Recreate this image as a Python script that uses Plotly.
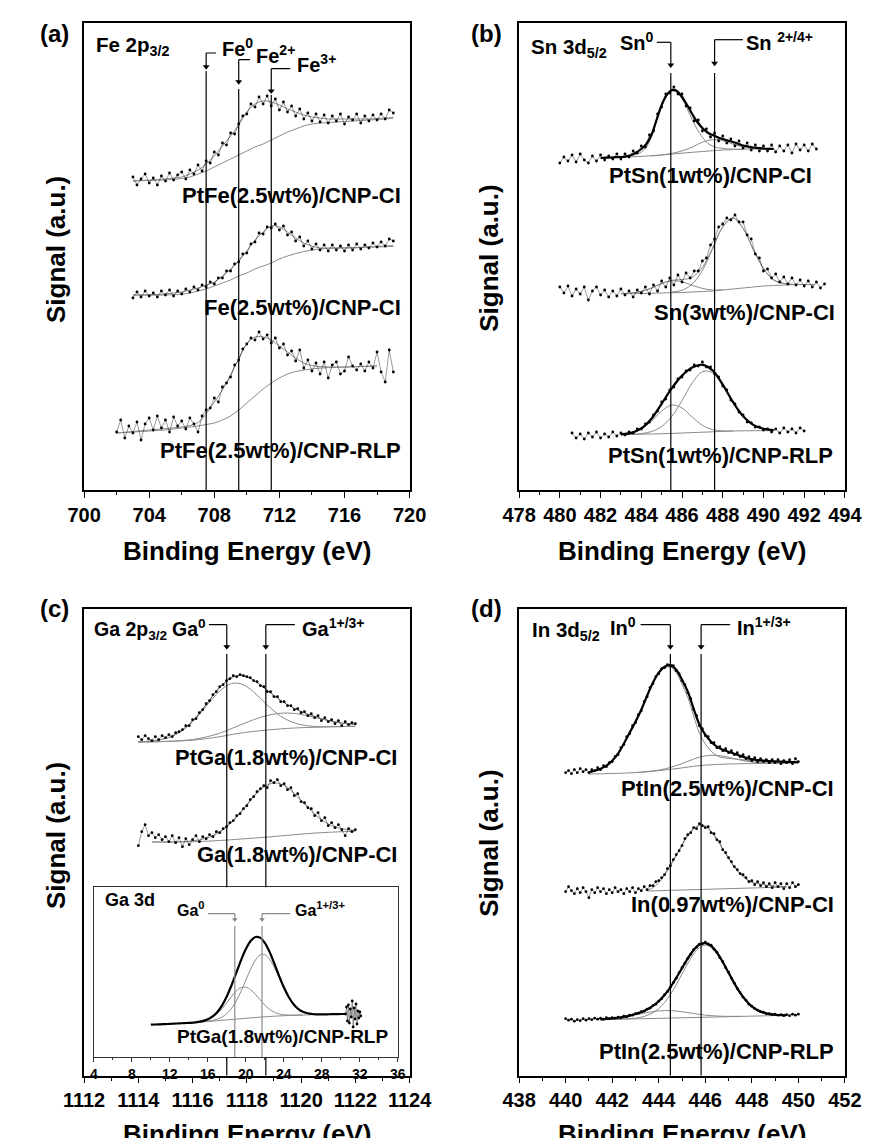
import numpy as np
import plotly.graph_objects as go

# ======================= DATA (signal, a.u.) =======================
# ---- Panel (a) Fe 2p3/2 ----
a_ticks = [700, 704, 708, 712, 716, 720]
fe_peaks = [707.5, 709.5, 711.5]
fe_names = ["Fe<sup>0</sup>", "Fe<sup>2+</sup>", "Fe<sup>3+</sup>"]
a_samples = ["PtFe(2.5wt%)/CNP-CI", "Fe(2.5wt%)/CNP-CI", "PtFe(2.5wt%)/CNP-RLP"]
a1_data = [313, 305, 311, 316, 307, 312, 305, 314, 309, 317, 310, 315, 318, 311, 320, 316,
           325, 319, 329, 327, 338, 335, 347, 345, 357, 356, 366, 374, 376, 386, 383, 393,
           386, 394, 384, 391, 380, 388, 378, 384, 374, 381, 371, 377, 369, 376, 368, 375,
           367, 374, 369, 376, 366, 373, 370, 376, 367, 374, 369, 375, 370, 376, 371, 380, 377]
a1_env = [309, 309.5, 310, 310.5, 311, 312, 313, 316, 320, 326, 334, 344, 354, 365, 378, 386, 389,
          388, 385, 381, 378, 375, 373, 372, 371, 371, 371, 371, 371, 371, 371.5, 372, 372.5]
a1_bg = [309, 309.2, 309.5, 309.8, 310, 310.7, 311.5, 313, 316, 319, 323, 327, 331, 335, 339, 343,
         346, 350, 354, 358, 361, 364, 366, 367, 367.5, 368, 368.5, 369, 369.5, 370, 370.5, 371, 372]
a2_data = [192, 198, 193, 199, 194, 197, 193, 199, 195, 200, 194, 199, 196, 201, 198, 203,
           200, 205, 203, 208, 206, 212, 212, 219, 219, 226, 228, 236, 237, 246, 248, 257,
           256, 263, 262, 266, 260, 264, 255, 258, 249, 253, 244, 249, 241, 246, 240, 245,
           239, 245, 240, 244, 239, 245, 240, 246, 241, 245, 242, 247, 243, 248, 244, 251, 249]
a2_env = [195, 195, 195, 195.5, 196, 197, 198, 200, 202, 205, 208, 214, 221, 229, 239, 250, 258,
          264, 263, 258, 252, 247, 244, 242, 242, 242, 242, 242, 242.5, 243, 243.5, 244, 244.5]
a2_bg = [195, 195, 195, 195, 195, 195.3, 195.7, 197, 199, 201, 204, 207, 210, 214, 217, 221, 224,
         227, 231, 234, 236.5, 238.5, 240, 241, 241.7, 242, 242.2, 242.4, 242.6, 242.8, 243, 243.3, 243.6]
a3_data = [58, 70, 52, 64, 57, 68, 50, 66, 72, 60, 74, 62, 70, 58, 73, 64, 69, 61, 72, 66,
           58, 74, 80, 82, 92, 88, 103, 107, 113, 125, 130, 141, 146, 152, 150, 158,
           151, 155, 147, 152, 142, 146, 135, 139, 129, 140, 122, 130, 119, 127, 116, 128,
           112, 125, 128, 116, 119, 133, 124, 120, 126, 119, 128, 122, 138, 118, 108, 140, 118]
a3_env = [57, 57.7, 58.5, 59.2, 60, 60.7, 61.5, 62.2, 63, 64.5, 67.5, 76, 88, 100, 115, 131, 146,
          153, 153, 150, 144, 138, 132, 127, 124.5, 123.5, 123, 123, 123, 123.2, 123.5, 123.8, 124]
a3_bg = [57, 57.5, 58, 58.5, 59, 59.5, 60, 61, 62, 63, 64, 65.5, 67, 70, 74, 80, 87, 94, 101, 107,
         112, 116, 118.5, 120, 121, 122, 122.3, 122.6, 122.9, 123.2, 123.5, 123.8, 124]

# ---- Panel (b) Sn 3d5/2 ----
b_ticks = [478, 480, 482, 484, 486, 488, 490, 492, 494]
sn_peaks = [485.45, 487.6]
b_samples = ["PtSn(1wt%)/CNP-CI", "Sn(3wt%)/CNP-CI", "PtSn(1wt%)/CNP-RLP"]
b1_data = [327, 333, 329, 335, 328, 336, 330, 327, 334, 329, 335, 330, 334, 331, 336,
           331, 336, 333, 339, 337, 344, 343, 355, 359, 376, 383, 396, 397, 403, 396,
           396, 384, 382, 369, 370, 359, 361, 353, 357, 349, 354, 347, 351, 344, 349,
           342, 347, 340, 345, 339, 344, 339, 345, 338, 344, 339, 345, 337, 346, 340,
           345, 339, 346, 341]
b1_env = [332, 332.3, 332.5, 332.8, 333, 333.7, 335, 337.5, 341, 346, 355, 370, 385, 395, 400, 399,
          393, 385, 376, 368, 362, 357.5, 355, 352.8, 351, 349.5, 348, 346.3, 344.5, 343.5,
          342.5, 342, 341.5, 341.2, 341]
b1_base = [332, 332.4, 332.8, 333.2, 333.6, 334.3, 335, 335.9, 336.8, 337.7, 338.5, 339.3, 340,
           340.4, 340.8, 341, 341, 341]
b1_c1 = [332.9, 333.4, 334.1, 335.6, 338.1, 342.8, 353.9, 369.3, 384.5, 394.3, 398.9, 397.8, 391.3,
         381.3, 370.3, 360.5, 352.7, 347.0, 344.0, 342.3, 341.7, 341.0, 340.8, 340.7, 340.8]
b1_c2 = [333.9, 335.1, 336.6, 339.1, 342.8, 347.8, 350.3, 349.3, 345.9, 343.1, 341.7, 341.1, 341]
b2_data = [203, 197, 204, 194, 201, 196, 203, 190, 199, 203, 195, 200, 193, 199, 194,
           201, 195, 199, 193, 200, 197, 203, 196, 205, 199, 209, 203, 212, 205, 215,
           208, 217, 212, 219, 219, 229, 232, 245, 251, 263, 266, 272, 270, 275, 268,
           268, 255, 251, 236, 232, 219, 221, 212, 216, 208, 213, 206, 212, 205, 210,
           204, 209, 203, 208, 202, 206]
b2_env = [196.4, 197, 198.5, 202, 206.5, 209.7, 210.4, 212.8, 222.6, 242, 263.2, 272, 261.6, 240.5,
          221.7, 210.1, 206.6, 205.6, 205.5, 205.5]
b2_base = [196.3, 196.4, 196.5, 196.8, 197, 197.3, 197.5, 198, 198.5, 199, 200, 201, 202, 203, 204,
           204.5, 205, 205.3, 205.5, 205.5]
b2_main = [198, 199.7, 206, 219.5, 241, 263, 272, 261.6, 240.5, 221.7, 210, 206.6, 205.6]
b2_small = [196.8, 198.5, 201.9, 206.4, 209.2, 208.2, 204.7, 201.6, 200, 200.2]
b3_data = [57, 52, 56, 51, 57, 53, 58, 52, 56, 53, 58, 54, 57, 55, 58, 57, 61,
           61, 66, 68, 75, 79, 88, 91, 100, 103, 111, 113, 119, 120, 125, 124,
           128, 123, 123, 116, 113, 104, 100, 90, 86, 78, 75, 68, 67, 63, 63,
           60, 61, 58, 61, 57, 62, 58, 61, 57, 62, 59]
b3_env = [55.6, 57.1, 61.6, 71.3, 86.2, 101.9, 114.4, 122.5, 125.2, 119.6, 105.4, 88.05, 73.8, 65.1,
          61.2, 59.9]
b3_base = [55.3, 55.5, 55.8, 56, 56.3, 56.6, 57, 57.4, 57.8, 58.2, 58.6, 59, 59.2, 59.3, 59.3, 59.4]
b3_c1 = [55.6, 57.0, 61.0, 68.9, 79.0, 84.9, 82.0, 73.0, 64.7, 60.4, 59.1, 59]
b3_c2 = [55.6, 56.4, 58.4, 63.5, 73.6, 89.4, 106.9, 118.3, 117.4, 104.9, 88.0, 73.8, 65.1, 61.2, 59.9]

# ---- Panel (c) Ga 2p3/2 (+ Ga 3d inset) ----
c_ticks = [1112, 1114, 1116, 1118, 1120, 1122, 1124]
ga_peaks = [1117.26, 1118.7]
c_samples = ["PtGa(1.8wt%)/CNP-CI", "Ga(1.8wt%)/CNP-CI"]
c1_data = [39, 36, 40, 37, 35, 39, 36, 40, 38, 41, 39, 43, 44, 46, 50, 50,
           56, 57, 63, 66, 72, 75, 81, 84, 89, 91, 95, 97, 100, 99, 101, 100,
           99, 98, 95, 94, 90, 89, 84, 84, 79, 79, 74, 74, 70, 70, 66, 67,
           63, 64, 60, 62, 58, 60, 55, 58, 54, 56, 52, 55, 50, 54, 51, 53, 52]
c1_env = [33.9, 34.2, 34.8, 35.7, 37.3, 39.6, 43.25, 48.2, 54.6, 62.4, 71.1, 80.0, 88.0, 94.6, 98.8,
          100.2, 98.9, 95.5, 90.7, 85.4, 80.1, 75.2, 71.0, 67.4, 64.3, 61.55, 59.2, 57.1, 55.3, 53.9,
          52.6, 51.75, 51.1]
c1_base = [33.7, 33.8, 33.9, 34.0, 34.2, 34.4, 34.7, 35.1, 35.5, 36.2, 37, 38, 39, 40.2, 41.5, 42.5,
           43.5, 44.3, 45, 45.7, 46.3, 46.8, 47.3, 47.7, 48, 48.2, 48.4, 48.6, 48.8, 49, 49.1, 49.25, 49.4]
c1_c1 = [33.9, 34.2, 34.8, 35.65, 37.2, 39.5, 43.0, 47.8, 53.9, 61.3, 69.4, 77.5, 84.5, 89.8, 92.5,
         92.1, 89.0, 83.8, 77.4, 70.8, 64.7, 59.5, 55.6, 52.8, 51.0, 49.85, 49.3, 49.0, 49.0, 49.0,
         49.1, 49.25, 49.4]
c1_c2 = [33.7, 33.8, 33.9, 34.0, 34.3, 34.5, 34.95, 35.5, 36.2, 37.3, 38.7, 40.5, 42.5, 45.0, 47.8,
         50.6, 53.4, 56.0, 58.3, 60.3, 61.7, 62.5, 62.7, 62.3, 61.3, 59.9, 58.3, 56.7, 55.3, 53.8,
         52.6, 51.75, 51.1]
c2_data = [30, 44, 51, 40, 43, 38, 41, 36, 39, 34, 40, 33, 38, 29, 37, 31,
           36, 40, 34, 39, 37, 41, 39, 44, 43, 47, 49, 53, 55, 60, 62, 67,
           70, 76, 79, 84, 87, 90, 88, 95, 93, 96, 90, 92, 86, 88, 80, 82,
           74, 73, 68, 67, 60, 63, 55, 58, 50, 53, 48, 51, 46, 40, 47, 44, 46]
c2_env = [33.7, 33.7, 33.73, 33.8, 34.0, 34.3, 34.8, 35.8, 37.5, 39.95, 43.6, 48.6, 55.0, 62.6, 70.8,
          78.8, 85.8, 90.6, 92.7, 91.8, 88.1, 82.2, 75.3, 68.1, 61.5, 56.0, 51.8, 48.85, 47.0, 45.8, 45.2]
c2_base = [33.7, 33.7, 33.7, 33.7, 33.8, 33.9, 34.0, 34.2, 34.5, 34.8, 35.2, 35.6, 36.1, 36.6, 37.1,
           37.6, 38.1, 38.6, 39.2, 39.8, 40.4, 41.0, 41.6, 42.1, 42.6, 43.0, 43.4, 43.7, 44.0, 44.2, 44.4]
i_ticks = [4, 8, 12, 16, 20, 24, 28, 32, 36]
ga3d_peaks = [18.84, 21.7]
inset_sample = "PtGa(1.8wt%)/CNP-RLP"
i_total = [32.3, 32.5, 32.7, 32.9, 33.1, 33.35, 33.6, 33.85, 34.1, 34.4, 35.1, 36.1, 37.8, 40.6,
           45.1, 51.7, 60.7, 71.9, 84.4, 96.9, 107.9, 116.0, 120.0, 119.35, 114.1, 105.0, 93.5,
           81.15, 69.7, 60.2, 53.0, 48.2, 45.3, 43.75, 43.0, 42.7, 42.6, 42.7, 42.8, 42.9, 43.0, 43.0]
i_base = [34.7, 35.1, 35.5, 35.9, 36.3, 36.7, 37.1, 37.5, 37.9, 38.3, 38.7, 39.1, 39.5, 39.85, 40.2,
          40.5, 40.8, 41.05, 41.3, 41.5, 41.7, 41.85, 42.0, 42.15, 42.3, 42.4, 42.5]
i_c1 = [35.1, 36.0, 37.5, 39.9, 43.5, 48.4, 54.4, 60.7, 66.1, 69.4, 69.8, 67.3, 62.7, 57.15, 51.9,
        47.7, 44.8, 43.05, 42.2, 41.9, 41.8, 41.9, 42.0]
i_c2 = [34.7, 35.2, 35.8, 36.6, 37.9, 40.0, 43.4, 48.7, 56.2, 65.8, 76.8, 87.8, 96.8, 102.05, 102.4,
        97.8, 89.5, 79.15, 68.8, 59.8, 52.9, 48.15, 45.3, 43.75, 43.0, 42.7, 42.6]
i_noise = [43, 50, 36, 52, 34, 48, 40, 56, 30, 49, 38, 53, 33, 46, 39, 45, 41]

# ---- Panel (d) In 3d5/2 ----
d_ticks = [438, 440, 442, 444, 446, 448, 450, 452]
in_peaks = [444.5, 445.82]
d_samples = ["PtIn(2.5wt%)/CNP-CI", "In(0.97wt%)/CNP-CI", "PtIn(2.5wt%)/CNP-RLP"]
d1_data = [3, 5, 2, 6, 3, 7, 4, 6, 3, 6, 5, 8, 6, 10, 9, 13,
           14, 19, 21, 28, 31, 39, 42, 50, 53, 61, 65, 74, 79, 88, 92, 99,
           102, 107, 108, 111, 110, 110, 105, 102, 95, 91, 83, 77, 66, 60, 50, 47,
           40, 39, 33, 33, 28, 29, 25, 27, 23, 25, 21, 23, 19, 21, 17, 19,
           15, 18, 14, 17, 14, 16, 13, 16, 13, 16, 12, 15, 13, 16, 12, 17, 14]
d1_env = [3.5, 5, 7, 10, 15, 22, 32, 43, 54, 66, 80, 93, 103, 109, 110.5, 106, 96, 84, 67, 51,
          41, 34, 29, 26, 24, 22, 20, 18, 16.5, 15.7, 15, 14.6, 14.3, 14, 13.8, 13.6, 13.5]
d1_base = [1.7, 1.9, 2.2, 2.6, 3.1, 3.9, 5.0, 6.3, 7.8, 9.4, 10.6, 11.3, 11.7, 11.95, 12.1, 12.3,
           12.45, 12.6, 12.7]
d1_c1 = [3.5, 5, 7, 10, 15, 22, 32, 43, 54, 65.95, 79.8, 92.6, 102.3, 107.8, 108.6, 103, 91.7, 78.3,
         59.8, 42.6, 31.7, 24.5, 20, 18, 17.35, 16.8, 16.3, 15.5, 14.9, 14.7, 14.5, 14.3, 14.2, 14,
         13.8, 13.6, 13.5]
d1_c2 = [3.1, 4.1, 5.65, 8.2, 12.1, 16.6, 19.9, 20.3, 18.35, 15.65, 13.7, 12.8, 12.55, 12.6]
d2_data = [4, 9, 5, 2, 7, 3, 8, 4, -2, 6, 3, 8, 4, 7, 2, 6,
           3, 8, 4, 6, 2, 7, 4, 8, 3, 7, 5, 9, 6, 10, 10, 14,
           15, 18, 21, 27, 30, 36, 41, 45, 50, 57, 61, 63, 68, 67, 72, 70,
           68, 69, 63, 62, 56, 54, 46, 43, 38, 34, 29, 26, 22, 21, 18, 14,
           15, 11, 14, 10, 13, 9, 12, 8, 13, 9, 12, 7, 12, 8, 13, 9, 11]
d2_env = [5.5, 8, 13, 20.5, 30, 40, 50.5, 60, 67, 70.5, 69.5, 64, 56, 46.5, 37, 28.5, 21.8, 16.8,
          13.5, 12, 11, 10.2, 9.6, 9.2, 9.0]
d2_base_e = [443.5, 449.5]
d2_base = [4.7, 8.7]
d3_data = [7, 5.5, 6.5, 4.5, 6, 5, 7, 5.5, 7, 6, 7.5, 6.5, 7.5, 6.5, 8, 7,
           8, 7.5, 8.5, 8, 9.5, 9, 10.5, 10.5, 12, 12.5, 14, 14.5, 16.5, 17.5, 20, 21.5,
           24.5, 27, 31, 34, 38.5, 43, 47.5, 53, 58, 62.5, 67.5, 71.5, 76, 78.5, 81.5, 82,
           83.5, 81.5, 80.5, 76.5, 73.5, 68, 64, 58, 53.5, 47.5, 42.5, 37, 33, 28.5, 25.5, 21.5,
           19.5, 17, 15.5, 14, 13.5, 12, 12, 11, 11.5, 10.5, 11, 10, 11, 10, 11.5, 10.5, 11.5]
d3_env = [6.34, 6.71, 7.24, 7.92, 8.81, 10.06, 11.63, 13.56, 16.3, 19.84, 24.48, 30.71, 38.45, 47.69,
          57.63, 67.36, 75.7, 81.14, 82.58, 79.86, 73.19, 63.76, 53.07, 42.35, 32.8, 25.09, 19.31,
          15.42, 13.05, 11.59, 10.93, 10.63, 10.56]
d3_main = [6.0, 6.14, 6.3, 6.47, 6.71, 7.06, 7.63, 8.56, 10.3, 12.94, 17.08, 23.11, 31.05, 40.79,
           51.63, 62.36, 71.7, 78.14, 80.48, 78.41, 72.25, 63.19, 52.73, 42.16, 32.7, 25.04, 19.28,
           15.41, 13.05, 11.59, 10.93, 10.63, 10.56]
d3_small = [6.34, 6.71, 7.22, 7.86, 8.65, 9.69, 10.83, 11.96, 13.1, 14.14, 14.78, 15.11, 15.05,
            14.69, 13.93, 13.06, 12.2, 11.34, 10.58, 10.06, 9.69, 9.46, 9.37, 9.35, 9.4]
d3_base_e = [441.5, 449.5]
d3_base = [6, 10.4]

# ======================= FIGURE =======================
W, H = 877, 1138
FONT = "Liberation Sans, Arial, Helvetica, sans-serif"
GREY = "#8a8a8a"


def grid(start, step, vals):
    return start + step * np.arange(len(vals))


def px(x):
    return x / W


def py(y):
    return 1 - y / H


fig = go.Figure()


def add_line(x, y, ax, kind, off=0.0):
    y = np.asarray(y, dtype=float) + off
    if kind == "data":
        fig.add_trace(go.Scatter(x=x, y=y, mode="lines+markers", xaxis=ax[0], yaxis=ax[1],
                                 line=dict(color="black", width=0.4),
                                 marker=dict(color="black", size=2.8),
                                 hoverinfo="skip", showlegend=False))
    elif kind == "bold":
        fig.add_trace(go.Scatter(x=x, y=y, mode="lines", xaxis=ax[0], yaxis=ax[1],
                                 line=dict(color="black", width=2.2, shape="spline"),
                                 hoverinfo="skip", showlegend=False))
    else:
        fig.add_trace(go.Scatter(x=x, y=y, mode="lines", xaxis=ax[0], yaxis=ax[1],
                                 line=dict(color=GREY, width=1.0, shape="spline"),
                                 hoverinfo="skip", showlegend=False))


A, B, C, D, I = ("x", "y"), ("x2", "y2"), ("x3", "y3"), ("x4", "y4"), ("x5", "y5")

# Panel a
add_line(grid(703, 0.5, a1_bg), a1_bg, A, "grey")
add_line(grid(703, 0.5, a1_env), a1_env, A, "grey")
add_line(grid(703, 0.25, a1_data), a1_data, A, "data")
add_line(grid(703, 0.5, a2_bg), a2_bg, A, "grey")
add_line(grid(703, 0.5, a2_env), a2_env, A, "grey")
add_line(grid(703, 0.25, a2_data), a2_data, A, "data")
add_line(grid(702, 0.5, a3_bg), a3_bg, A, "grey")
add_line(grid(702, 0.5, a3_env), a3_env, A, "grey")
add_line(grid(702, 0.25, a3_data), a3_data, A, "data")

# Panel b
add_line(grid(482, 0.5, b1_base), b1_base, B, "grey")
add_line(grid(483, 0.25, b1_c1), b1_c1, B, "grey")
add_line(grid(484.5, 0.5, b1_c2), b1_c2, B, "grey")
add_line(grid(480, 0.2, b1_data), b1_data, B, "data")
add_line(grid(482, 0.25, b1_env), b1_env, B, "bold")
add_line(grid(483, 0.5, b2_base), b2_base, B, "grey")
add_line(grid(485.5, 0.5, b2_main), b2_main, B, "grey")
add_line(grid(483.5, 0.5, b2_small), b2_small, B, "grey")
add_line(grid(483, 0.5, b2_env), b2_env, B, "grey")
add_line(grid(480, 0.2, b2_data), b2_data, B, "data")
add_line(grid(483, 0.5, b3_base), b3_base, B, "grey")
add_line(grid(483, 0.5, b3_c1), b3_c1, B, "grey")
add_line(grid(483.5, 0.5, b3_c2), b3_c2, B, "grey")
add_line(grid(480.6, 0.2, b3_data), b3_data, B, "data")
add_line(grid(483, 0.5, b3_env), b3_env, B, "bold")

# Panel c (stacked with vertical offsets)
OFF_C = [300, 200]
add_line(grid(1114, 0.25, c1_base), c1_base, C, "grey", OFF_C[0])
add_line(grid(1114, 0.25, c1_c1), c1_c1, C, "grey", OFF_C[0])
add_line(grid(1114, 0.25, c1_c2), c1_c2, C, "grey", OFF_C[0])
add_line(grid(1114, 0.25, c1_env), c1_env, C, "grey", OFF_C[0])
add_line(grid(1114, 0.125, c1_data), c1_data, C, "data", OFF_C[0])
add_line(grid(1114.5, 0.25, c2_base), c2_base, C, "grey", OFF_C[1])
add_line(grid(1114.5, 0.25, c2_env), c2_env, C, "grey", OFF_C[1])
add_line(grid(1114, 0.125, c2_data), c2_data, C, "data", OFF_C[1])

# Inset
add_line(grid(15, 0.5, i_base), i_base, I, "grey")
add_line(grid(15, 0.5, i_c1), i_c1, I, "grey")
add_line(grid(15, 0.5, i_c2), i_c2, I, "grey")
add_line(grid(30.5, 0.1, i_noise), i_noise, I, "data")
add_line(grid(10, 0.5, i_total), i_total, I, "bold")

# Panel d (stacked with vertical offsets)
OFF_D = [300, 180, 50]
add_line(grid(441, 0.5, d1_base), d1_base, D, "grey", OFF_D[0])
add_line(grid(441, 0.25, d1_c1), d1_c1, D, "grey", OFF_D[0])
add_line(grid(443, 0.5, d1_c2), d1_c2, D, "grey", OFF_D[0])
add_line(grid(440, 0.125, d1_data), d1_data, D, "data", OFF_D[0])
add_line(grid(441, 0.25, d1_env), d1_env, D, "bold", OFF_D[0])
add_line(d2_base_e, d2_base, D, "grey", OFF_D[1])
add_line(grid(443.5, 0.25, d2_env), d2_env, D, "grey", OFF_D[1])
add_line(grid(440, 0.125, d2_data), d2_data, D, "data", OFF_D[1])
add_line(d3_base_e, d3_base, D, "grey", OFF_D[2])
add_line(grid(441.5, 0.25, d3_main), d3_main, D, "grey", OFF_D[2])
add_line(grid(441.5, 0.25, d3_small), d3_small, D, "grey", OFF_D[2])
add_line(grid(440, 0.125, d3_data), d3_data, D, "data", OFF_D[2])
add_line(grid(441.5, 0.25, d3_env), d3_env, D, "bold", OFF_D[2])

# ---------------- axes ----------------
XA = [px(58), px(400.7)]
XB = [px(516), px(859)]
YT = [py(482), py(15)]
YB = [py(1067.7), py(600.7)]
XI = [px(68.3), px(388.3)]
YI = [py(1049), py(879.3)]


def xax(rng, ticks, mdt, dom, anchor, size=20, tl=6, lw=1.5, col="black"):
    return dict(range=rng, domain=dom, anchor=anchor, tickmode="array", tickvals=ticks,
                ticktext=["<b>%g</b>" % t for t in ticks],
                ticks="outside", ticklen=tl, tickwidth=1.3, tickcolor=col,
                minor=dict(tickmode="linear", tick0=rng[0], dtick=mdt, ticks="outside",
                           ticklen=tl * 0.55, tickwidth=1.2, tickcolor=col),
                showline=True, linecolor=col, linewidth=lw, mirror=True,
                showgrid=False, zeroline=False,
                tickfont=dict(family=FONT, size=size, color="black"))


def yax(rng, dom, anchor, lw=1.5, col="black"):
    return dict(range=rng, domain=dom, anchor=anchor, showline=True, linecolor=col, linewidth=lw,
                mirror=True, ticks="", showticklabels=False, showgrid=False, zeroline=False)


fig.update_layout(
    width=W, height=H, autosize=False, margin=dict(l=0, r=0, t=0, b=0),
    paper_bgcolor="white", plot_bgcolor="white", showlegend=False,
    xaxis=xax([700, 720], a_ticks, 2, XA, "y"), yaxis=yax([0, 467], YT, "x"),
    xaxis2=xax([478, 494], b_ticks, 1, XB, "y2"), yaxis2=yax([0, 467], YT, "x2"),
    xaxis3=xax([1112, 1124], c_ticks, 1, XA, "y3"), yaxis3=yax([0, 467], YB, "x3"),
    xaxis4=xax([438, 452], d_ticks, 1, XB, "y4"), yaxis4=yax([0, 467], YB, "x4"),
    xaxis5=xax([4, 36], i_ticks, 2, XI, "y5", size=14, tl=4, lw=1.2, col="#333333"),
    yaxis5=yax([0, 169.7], YI, "x5", lw=1.2, col="#333333"),
)

shapes = []
annots = []


def vline(xr, yr, x, y0, y1, color="black", w=1.2):
    shapes.append(dict(type="line", xref=xr, yref=yr, x0=x, x1=x, y0=y0, y1=y1,
                       line=dict(color=color, width=w), layer="above"))


def hline(xr, yr, x0, x1, y, color="black", w=1.2):
    shapes.append(dict(type="line", xref=xr, yref=yr, x0=x0, x1=x1, y0=y, y1=y,
                       line=dict(color=color, width=w), layer="above"))


def text(xr, yr, x, y, s, size=22, xanchor="left", yanchor="middle", angle=0):
    annots.append(dict(x=x, y=y, xref=xr, yref=yr, text="<b>" + s + "</b>", showarrow=False,
                       xanchor=xanchor, yanchor=yanchor, textangle=angle,
                       font=dict(family=FONT, size=size, color="black")))


def marker_label(ax, x, ytail, ytip, yline_top, xend, label, lx, ly, side,
                 color="black", size=20, segments=None, head=6):
    xr, yr = ax
    hline(xr, yr, min(x, xend), max(x, xend), ytail, color)
    vline(xr, yr, x, ytip + head * 0.6, ytail, color)
    # arrow head (filled triangle marker whose tip sits at ytip)
    fig.add_trace(go.Scatter(x=[x], y=[ytip + head / 2.0], mode="markers", xaxis=xr, yaxis=yr,
                             marker=dict(symbol="triangle-down", size=head, color=color,
                                         line=dict(width=0)),
                             hoverinfo="skip", showlegend=False))
    if segments is None:
        vline(xr, yr, x, 0, yline_top, color)
    else:
        for s0, s1 in segments:
            vline(xr, yr, x, s0, s1, color)
    text(xr, yr, lx, ly, label, size=size, xanchor=side)


# Panel a markers
marker_label(A, fe_peaks[0], 437, 420.3, 419, 708.1, fe_names[0], 708.35, 442, "left")
marker_label(A, fe_peaks[1], 430.3, 405.3, 401, 710.2, fe_names[1], 710.45, 435, "left")
marker_label(A, fe_peaks[2], 421.3, 396, 395, 712.67, fe_names[2], 712.95, 426, "left")
text("x", "y", 700.6, 444, "Fe 2p<sub>3/2</sub>", size=20.5)
text("x", "y", 719.57, 294, a_samples[0], xanchor="right")
text("x", "y", 719.57, 182, a_samples[1], xanchor="right")
text("x", "y", 719.57, 39, a_samples[2], xanchor="right")

# Panel b markers
marker_label(B, sn_peaks[0], 447.7, 422, 417, 484.76, "Sn<sup>0</sup>", 484.72, 448, "right")
marker_label(B, sn_peaks[1], 450.3, 423.7, 417, 488.99, "Sn <sup>2+/4+</sup>", 489.05, 448, "left")
text("x2", "y2", 478.5, 442, "Sn 3d<sub>5/2</sub>", size=20.5)
text("x2", "y2", 492.46, 314, b_samples[0], xanchor="right")
text("x2", "y2", 493.6, 177, b_samples[1], xanchor="right")
text("x2", "y2", 493.53, 34, b_samples[2], xanchor="right")

# Panel c markers (main lines are interrupted behind the inset)
segs = [(188.4, 421.7), (0, 18.7)]
marker_label(C, ga_peaks[0], 451, 426, 421.7, 1116.6, "Ga<sup>0</sup>", 1116.57, 448, "right",
             segments=segs, size=19.5)
marker_label(C, ga_peaks[1], 451, 426, 421.7, 1119.77, "Ga<sup>1+/3+</sup>", 1119.95, 448, "left",
             segments=segs)
text("x3", "y3", 1112.3, 445, "Ga 2p<sub>3/2</sub>", size=19.5)
text("x3", "y3", 1123.62, 318.7, c_samples[0], xanchor="right")
text("x3", "y3", 1123.62, 221, c_samples[1], xanchor="right")

# Inset markers
marker_label(I, ga3d_peaks[0], 143.3, 135, 131, 16.0, "Ga<sup>0</sup>", 15.9, 148, "right", color=GREY, size=16, head=5)
marker_label(I, ga3d_peaks[1], 143.3, 135, 131, 24.67, "Ga<sup>1+/3+</sup>", 24.95, 148, "left", color=GREY, size=16, head=5)
text("x5", "y5", 5.0, 156.7, "Ga 3d", size=18)
text("x5", "y5", 35.17, 20.7, inset_sample, size=19, xanchor="right")

# Panel d markers
marker_label(D, in_peaks[0], 451, 426, 421.7, 443.22, "In<sup>0</sup>", 443.1, 449, "right")
marker_label(D, in_peaks[1], 451, 426, 421.7, 447.07, "In<sup>1+/3+</sup>", 447.27, 449, "left")
text("x4", "y4", 438.45, 445, "In 3d<sub>5/2</sub>", size=20.5)
text("x4", "y4", 451.6, 287.7, d_samples[0], xanchor="right")
text("x4", "y4", 451.6, 171.7, d_samples[1], xanchor="right")
text("x4", "y4", 451.6, 24.4, d_samples[2], xanchor="right")

# Paper-level texts
for lab, x, y in [("(a)", 27, 26), ("(b)", 482, 26), ("(c)", 27, 600), ("(d)", 482, 600)]:
    text("paper", "paper", px(x), py(y), lab, size=24, xanchor="center")
for x, y in [(28.5, 242), (484, 250), (28.5, 828), (484, 835)]:
    text("paper", "paper", px(x), py(y), "Signal (a.u.)", size=26, xanchor="center", angle=-90)
for x, y in [(229.4, 543), (687.5, 543), (229.4, 1126), (687.5, 1126)]:
    text("paper", "paper", px(x), py(y), "Binding Energy (eV)", size=26, xanchor="center")

fig.update_layout(shapes=shapes, annotations=annots)
fig.write_html("out.html")
